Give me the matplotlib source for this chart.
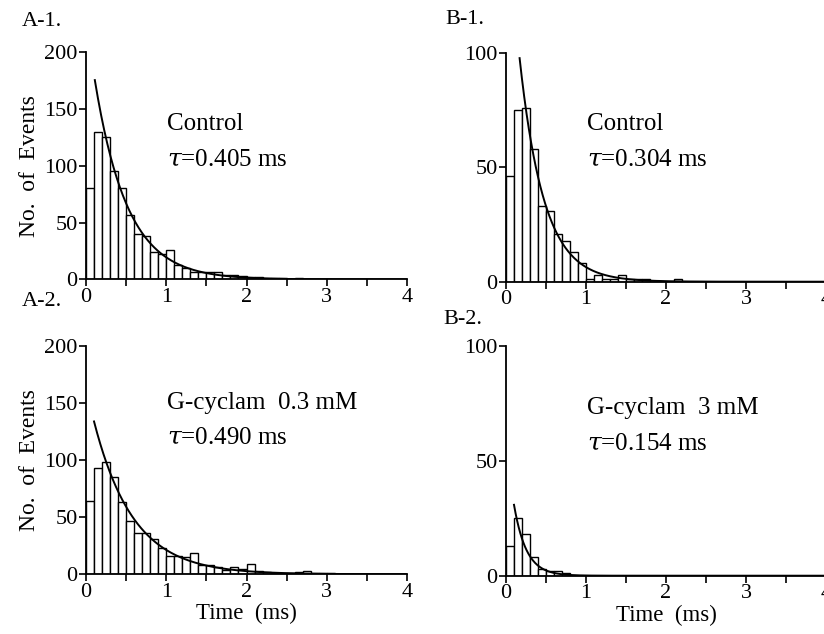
import numpy as np
import matplotlib
matplotlib.use("Agg")
import matplotlib.pyplot as plt

plt.rcParams['font.family'] = ['Liberation Serif', 'DejaVu Serif']
plt.rcParams['mathtext.fontset'] = 'dejavuserif'

# bin edges: 0 to 4 ms in 0.1 ms steps
bin_width = 0.1
bin_left = np.arange(40) * bin_width

# counts per bin
counts_a1 = [80, 130, 125, 95, 80, 57, 40, 38, 24, 22, 26, 13, 10, 7, 7, 7, 7, 4, 4, 3,
             2, 2, 1, 1, 1, 0, 1, 0, 0, 0, 0, 0, 0, 0, 0, 0, 0, 0, 0, 0]
counts_b1 = [46, 75, 76, 58, 33, 31, 21, 18, 13, 8, 1, 3, 1, 1, 3, 1, 1, 1, 0, 0,
             0, 1, 0, 0, 0, 0, 0, 0, 0, 0, 0, 0, 0, 0, 0, 0, 0, 0, 0, 0]
counts_a2 = [64, 93, 98, 85, 63, 47, 36, 36, 31, 23, 16, 16, 15, 19, 8, 8, 6, 4, 6, 5,
             9, 3, 2, 1, 1, 1, 2, 3, 1, 1, 1, 0, 0, 0, 0, 0, 0, 0, 0, 0]
counts_b2 = [13, 25, 18, 8, 3, 2, 2, 1, 0, 0, 0, 0, 0, 0, 0, 0, 0, 0, 0, 0,
             0, 0, 0, 0, 0, 0, 0, 0, 0, 0, 0, 0, 0, 0, 0, 0, 0, 0, 0, 0]

# single exponential fits: amplitude, time constant (ms), start of drawn curve
fit_amp = [230, 171, 164, 59]
fit_tau = [0.405, 0.304, 0.490, 0.154]
fit_start = [0.11, 0.17, 0.10, 0.10]

panel_names = ['A-1.', 'B-1.', 'A-2.', 'B-2.']
conditions = ['Control', 'Control', 'G-cyclam  0.3 mM', 'G-cyclam  3 mM']
tau_labels = [r'$\tau$=0.405 ms', r'$\tau$=0.304 ms', r'$\tau$=0.490 ms', r'$\tau$=0.154 ms']
y_max = [200, 100, 200, 100]
all_counts = [counts_a1, counts_b1, counts_a2, counts_b2]

W, H = 824, 634
fig = plt.figure(figsize=(W / 100, H / 100), dpi=100)

# axes rectangles in pixels: left, y of zero line, width, height
rects = [(86, 279.5, 321, 227.5), (506, 281.7, 320, 228.7),
         (86, 574.3, 321, 228.6), (506, 575.7, 320, 230)]
label_pos = [(22, 22), (445, 20), (22, 302), (443, 320)]
text_y = [(0.685, 0.525), (0.69, 0.53), (0.75, 0.595), (0.73, 0.57)]

for i in range(4):
    l, y0, w, h = rects[i]
    ax = fig.add_axes([l / W, 1 - y0 / H, w / W, h / H])
    ax.bar(bin_left, all_counts[i], width=bin_width, align='edge',
           facecolor='white', edgecolor='black', linewidth=1.0, zorder=2)
    t = np.linspace(fit_start[i], 4, 400)
    ax.plot(t, fit_amp[i] * np.exp(-t / fit_tau[i]), color='black', lw=1.4, zorder=3)

    ax.set_xlim(0, 4)
    ax.set_ylim(0, y_max[i])
    ax.set_xticks([0, 1, 2, 3, 4])
    ax.set_xticks([0.5, 1.5, 2.5, 3.5], minor=True)
    ax.set_yticks(np.arange(0, y_max[i] + 1, 50))
    for side in ['top', 'right']:
        ax.spines[side].set_visible(False)
    for side in ['left', 'bottom']:
        ax.spines[side].set_linewidth(1.3)
    ax.tick_params(which='both', direction='out', length=5, width=1.2,
                   labelsize=16, pad=1)
    ax.patch.set_alpha(0)

    ax.text(1.01 / 4, text_y[i][0], conditions[i], transform=ax.transAxes,
            fontsize=18, va='center', ha='left')
    ax.text(1.01 / 4, text_y[i][1], tau_labels[i], transform=ax.transAxes,
            fontsize=18, va='center', ha='left')

    if i in (0, 2):
        ax.set_ylabel('No.  of  Events', fontsize=17, labelpad=3)
    if i in (2, 3):
        ax.set_xlabel('Time  (ms)', fontsize=16.5, labelpad=1)

    fig.text(label_pos[i][0] / W, 1 - label_pos[i][1] / H, panel_names[i],
             fontsize=16, ha='left', va='center')

fig.savefig('out.png', dpi=100)
